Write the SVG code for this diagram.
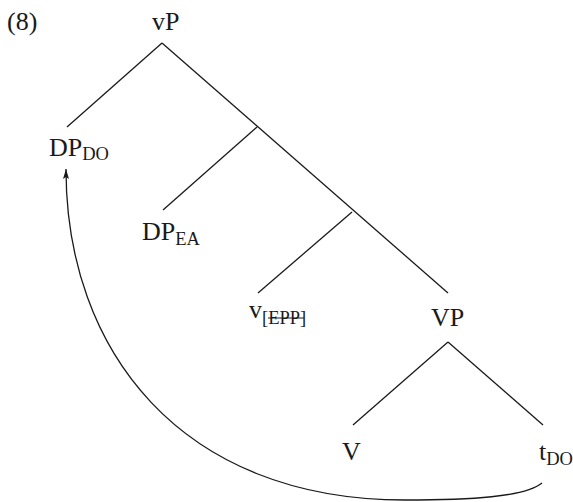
<svg xmlns="http://www.w3.org/2000/svg" width="573" height="502" viewBox="0 0 573 502">
<style>
text{font-family:"Liberation Serif","Times New Roman",serif;font-size:26px;fill:#1a1a1a}
.sub{font-size:18.5px}
.edge{stroke:#1a1a1a;stroke-width:1.3;fill:none}
</style>
<defs>
<marker id="ah" viewBox="0 0 10 6" refX="10" refY="3" markerWidth="10" markerHeight="6" markerUnits="userSpaceOnUse" orient="auto">
<path d="M0,0 L10,3 L0,6 L2,3 Z" fill="#1a1a1a"/>
</marker>
</defs>
<rect width="573" height="502" fill="#fff"/>
<text x="7" y="30">(8)</text>
<g id="connectors">
<line class="edge" x1="162" y1="43" x2="67" y2="127"/>
<line class="edge" x1="162" y1="43" x2="448" y2="293"/>
<line class="edge" x1="257" y1="127" x2="163" y2="210"/>
<line class="edge" x1="352" y1="212" x2="258" y2="293"/>
<line class="edge" x1="448" y1="342" x2="353" y2="425"/>
<line class="edge" x1="448" y1="342" x2="543" y2="425"/>
<path class="edge" d="M542,483 C525,497 470,500 405,500 C180,500 66,350 66,169" marker-end="url(#ah)"/>
</g>
<g id="vP"><text x="152" y="30">vP</text></g>
<g id="DP_DO"><text x="49" y="156">DP<tspan class="sub" dy="4">DO</tspan></text></g>
<g id="DP_EA"><text x="142" y="240">DP<tspan class="sub" dy="5">EA</tspan></text></g>
<g id="v_EPP"><text x="249" y="318">v<tspan class="sub" dy="6">[EPP]</tspan></text>
<line x1="268" y1="318" x2="304" y2="318" stroke="#1a1a1a" stroke-width="1.2"/></g>
<g id="VP"><text x="431" y="326">VP</text></g>
<g id="V"><text x="342" y="460">V</text></g>
<g id="t_DO"><text x="539" y="460">t<tspan class="sub" dy="5">DO</tspan></text></g>
</svg>
